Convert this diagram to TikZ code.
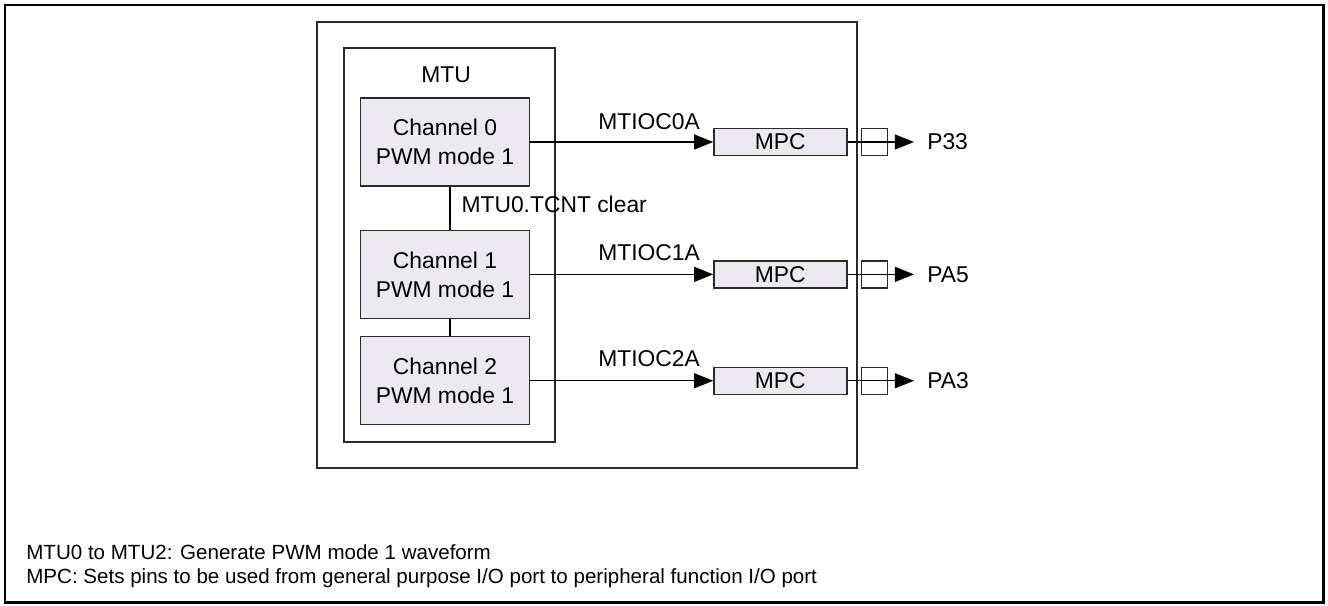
\documentclass[tikz,border=0pt]{standalone}
\usepackage{fontspec}
\setmainfont{Liberation Sans}
\usepackage{tikz}
\usetikzlibrary{arrows.meta,positioning}
\definecolor{BoxFill}{HTML}{ECE9F0}
\definecolor{BoxLine}{HTML}{2B2B2B}
\newcommand{\figfont}{\fontsize{13}{16.5}\selectfont}
\newcommand{\notefont}{\fontsize{11.7}{14}\selectfont}
\tikzset{
  frame/.style={rectangle,draw=black,line width=1.7pt},
  blockbox/.style={rectangle,draw=BoxLine,line width=0.8pt,inner sep=0pt},
  chanbox/.style={rectangle,draw=BoxLine,fill=BoxFill,line width=0.8pt,minimum width=3.38cm,minimum height=1.76cm,align=center,font=\figfont},
  mpcbox/.style={rectangle,draw=BoxLine,fill=BoxFill,line width=0.8pt,minimum width=2.66cm,minimum height=0.54cm,inner sep=0pt,font=\figfont},
  pinbox/.style={rectangle,draw=BoxLine,line width=0.8pt,minimum width=0.52cm,minimum height=0.54cm,inner sep=0pt},
  pinlabel/.style={inner sep=0pt,anchor=west,font=\figfont},
  txt/.style={inner sep=0pt,font=\figfont},
  note/.style={inner sep=0pt,anchor=west,font=\notefont},
  sig/.style={-{Triangle[length=0.38cm,width=0.3cm]},line width=0.65pt,color=black},
  link/.style={line width=0.65pt,color=black},
}

\begin{document}
\begin{tikzpicture}[x=0.02cm,y=-0.02cm]
  \useasboundingbox (0,0) rectangle (1328,605);
  \draw[frame] (5,5) rectangle (1323,602);

  % Outer blocks
  \node[blockbox, minimum width=10.8cm, minimum height=8.92cm] (chip) at (587,245) {};
  \node[blockbox, minimum width=4.22cm, minimum height=7.88cm] (mtu) at (449.5,245) {};
  \node[txt] (mtulbl) at (446,75) {MTU};

  % MTU channels
  \node[chanbox] (ch0) at (445,142) {Channel 0\\PWM mode 1};
  \node[chanbox, below=0.86cm of ch0] (ch1) {Channel 1\\PWM mode 1};
  \node[chanbox, below=0.34cm of ch1] (ch2) {Channel 2\\PWM mode 1};

  % MPC and pins
  \node[mpcbox, right=3.66cm of ch0] (mpc0) {MPC};
  \node[mpcbox, right=3.66cm of ch1] (mpc1) {MPC};
  \node[mpcbox, right=3.66cm of ch2] (mpc2) {MPC};
  \node[pinbox, right=0.26cm of mpc0] (pin0) {};
  \node[pinbox, right=0.26cm of mpc1] (pin1) {};
  \node[pinbox, right=0.26cm of mpc2] (pin2) {};
  \node[pinlabel, right=0.78cm of pin0] (p33) {P33};
  \node[pinlabel, right=0.78cm of pin1] (pa5) {PA5};
  \node[pinlabel, right=0.78cm of pin2] (pa3) {PA3};

  % Channel links
  \draw[link] ([xshift=0.1cm]ch0.south) -- node[txt, anchor=west, pos=0.42, xshift=0.22cm]{MTU0.TCNT clear} ([xshift=0.1cm]ch1.north);
  \draw[link] ([xshift=0.1cm]ch1.south) -- ([xshift=0.1cm]ch2.north);

  % Output signals
  \draw[sig] (ch0) -- node[txt, pos=0.65, yshift=0.4cm]{MTIOC0A} (mpc0);
  \draw[sig] (ch1) -- node[txt, pos=0.65, yshift=0.44cm]{MTIOC1A} (mpc1);
  \draw[sig] (ch2) -- node[txt, pos=0.65, yshift=0.44cm]{MTIOC2A} (mpc2);
  \draw[sig, shorten >=0.26cm] (mpc0) -- (p33);
  \draw[sig, shorten >=0.26cm] (mpc1) -- (pa5);
  \draw[sig, shorten >=0.26cm] (mpc2) -- (pa3);

  % Notes
  \node[note] (note1) at (26,552) {MTU0 to MTU2: Generate PWM mode 1 waveform};
  \node[note] (note2) at (26,578) {MPC: Sets pins to be used from general purpose I/O port to peripheral function I/O port};
\end{tikzpicture}
\end{document}
